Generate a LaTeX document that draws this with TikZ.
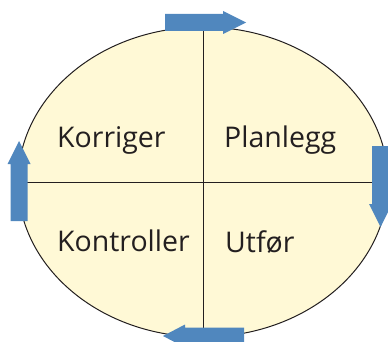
\documentclass[tikz,border=0pt]{standalone}
\usepackage{fontspec}
\setmainfont{Open Sans}
\usetikzlibrary{shapes.geometric}
\definecolor{cycleblue}{RGB}{80,135,190}
\definecolor{cyclefill}{RGB}{255,249,214}
\definecolor{cycletext}{RGB}{35,31,32}

\begin{document}
\begin{tikzpicture}[x=1pt, y=-1pt,
    wheel/.style = {draw=cycletext, fill=cyclefill, ellipse, line width=1pt, inner sep=0pt},
    phase/.style = {anchor=base west, inner sep=0pt, text=cycletext, font=\fontsize{28.5}{34}\selectfont},
    flow/.style = {fill=cycleblue}]
    \useasboundingbox (0,0) rectangle (388,342);
    % Wheel
    \node[wheel, minimum width=370pt, minimum height=310pt] (wheel) at (203,182) {};
    \draw[cycletext, line width=1pt] (wheel.north) -- (wheel.south);
    \draw[cycletext, line width=1pt] (wheel.west) -- (wheel.east);

    % Phases
    \node[phase] (korr) at (57,147) {Korriger};
    \node[phase] (plan) at (224,147) {Planlegg};
    \node[phase] (kont) at (57,251) {Kontroller};
    \node[phase] (utf) at (225,252) {Utfør};

    % Arrows
    \fill[flow] (165,14) -- (223,14) -- (223,11) -- (246,22.5) -- (223,34) -- (223,31) -- (165,31) -- cycle;
    \fill[flow] (372,146) -- (389,146) -- (389,204) -- (392,204) -- (380.5,227) -- (369,204) -- (372,204) -- cycle;
    \fill[flow] (244,327.5) -- (185,327.5) -- (185,324.5) -- (163,336) -- (185,347.5) -- (185,344.5) -- (244,344.5) -- cycle;
    \fill[flow] (10.5,221) -- (10.5,164) -- (7.5,164) -- (19,141) -- (30.5,164) -- (27.5,164) -- (27.5,221) -- cycle;

\end{tikzpicture}
\end{document}
